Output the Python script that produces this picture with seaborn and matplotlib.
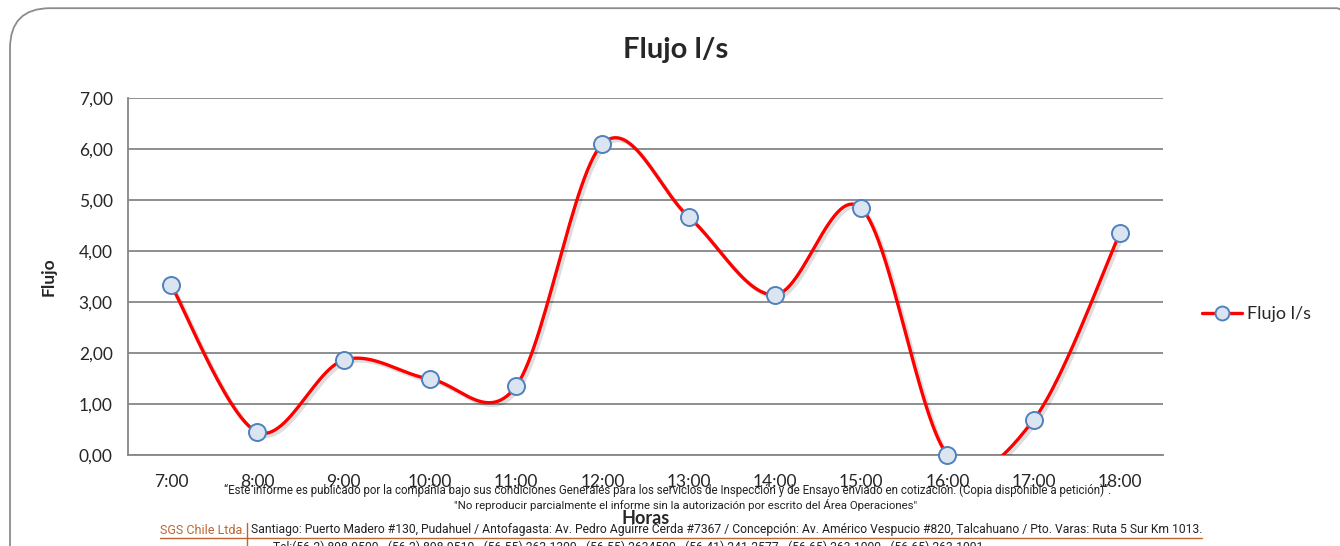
import numpy as np
import pandas as pd
import matplotlib
matplotlib.use("Agg")
import matplotlib.pyplot as plt
import matplotlib.patheffects as pe
from matplotlib.lines import Line2D
from matplotlib.patches import FancyBboxPatch
import seaborn as sns

# data
horas = ["7:00", "8:00", "9:00", "10:00", "11:00", "12:00",
         "13:00", "14:00", "15:00", "16:00", "17:00", "18:00"]
flujo = [3.33, 0.45, 1.86, 1.49, 1.35, 6.10, 4.67, 3.14, 4.84, 0.00, 0.69, 4.35]
y_ticks = [0, 1, 2, 3, 4, 5, 6, 7]

df = pd.DataFrame({"hora": horas, "flujo": flujo, "pos": np.arange(len(horas))})


def smooth_curve(x, y, steps=30):
    """Excel-like smoothed line (Catmull-Rom bezier through the points)."""
    x = np.asarray(x, float)
    y = np.asarray(y, float)
    px = np.concatenate([[x[0]], x, [x[-1]]])
    py = np.concatenate([[y[0]], y, [y[-1]]])
    xs, ys = [], []
    t = np.linspace(0, 1, steps)
    for i in range(1, len(px) - 2):
        p0 = np.array([px[i], py[i]])
        p3 = np.array([px[i + 1], py[i + 1]])
        p1 = p0 + (np.array([px[i + 1], py[i + 1]]) - np.array([px[i - 1], py[i - 1]])) / 6
        p2 = p3 - (np.array([px[i + 2], py[i + 2]]) - np.array([px[i], py[i]])) / 6
        b = ((1 - t) ** 3)[:, None] * p0 + (3 * (1 - t) ** 2 * t)[:, None] * p1 \
            + (3 * (1 - t) * t ** 2)[:, None] * p2 + (t ** 3)[:, None] * p3
        xs.extend(b[:, 0])
        ys.extend(b[:, 1])
    return pd.DataFrame({"x": xs, "y": ys})


curve = smooth_curve(df["pos"], df["flujo"])

sns.set_style("white")
plt.rcParams["font.family"] = ["Lato", "DejaVu Sans"]

fig = plt.figure(figsize=(13.4, 5.46), dpi=100)
ax = fig.add_axes([0.0955, 0.1667, 0.7725, 0.6538])

# rounded frame of the chart object (runs past the bottom edge)
frame = FancyBboxPatch((10 / 1340, -0.1), 1.02, 1.085, transform=fig.transFigure,
                       boxstyle="round,pad=0,rounding_size=0.03", mutation_aspect=2.45,
                       fc="none", ec="#8c8c8c", lw=1.3, zorder=0)
fig.patches.append(frame)

red = "#ff0000"
shadow = [pe.SimpleLineShadow(offset=(2, -2), shadow_color="#000000", alpha=0.13), pe.Normal()]
sns.lineplot(data=curve, x="x", y="y", ax=ax, color=red, lw=2.4, sort=False,
             estimator=None, zorder=3, path_effects=shadow)
sns.scatterplot(data=df, x="pos", y="flujo", ax=ax, s=150, color="#dbe5f1",
                edgecolor="#4f81bd", linewidth=1.4, zorder=4, clip_on=False)

ax.set_xlim(-0.5, len(horas) - 0.5)
ax.set_ylim(0, 7)
ax.set_yticks(y_ticks)
ax.set_yticklabels([f"{v:.2f}".replace(".", ",") for v in y_ticks], fontsize=12.5)
ax.set_xticks(df["pos"])
ax.set_xticklabels(horas, fontsize=12.5)
ax.tick_params(axis="y", length=5, width=1, color="#868686", pad=6)
ax.tick_params(axis="x", length=0, pad=14)
ax.yaxis.grid(True, color="#868686", lw=1.3)
ax.set_axisbelow(True)
for s in ["top", "right"]:
    ax.spines[s].set_visible(False)
ax.spines["left"].set_color("#868686")
ax.spines["bottom"].set_color("#868686")
ax.spines["left"].set_linewidth(1.3)
ax.spines["bottom"].set_linewidth(1.3)

ax.set_xlabel("")
ax.set_ylabel("Flujo", fontsize=12.5, fontweight="bold", labelpad=16)
fig.text(676 / 1340, 1 - 50 / 546, "Flujo l/s", ha="center", va="center",
         fontsize=21, fontweight="bold")

handle = Line2D([], [], color=red, lw=2.4, marker="o", markersize=10,
                markerfacecolor="#dbe5f1", markeredgecolor="#4f81bd", markeredgewidth=1.4)
fig.legend([handle], ["Flujo l/s"], loc="center left", bbox_to_anchor=(1186 / 1340, 1 - 314 / 546),
           frameon=False, fontsize=13, handlelength=2.2, handletextpad=0.3)

# footer texts from the underlying report page
narrow = ["Roboto", "DejaVu Sans"]
dark = "#222222"
brown = "#c0642f"
fig.text(646 / 1340, 1 - 519 / 546, "Horas", ha="center", va="center",
         fontsize=13, fontweight="bold")
fig.text(668 / 1340, 1 - 490 / 546,
         "\u201cEste informe es publicado por la compañía bajo sus condiciones Generales para los "
         "servicios de Inspección y de Ensayo enviado en cotización. (Copia disponible a petición)\u201d.",
         ha="center", va="center", fontsize=8.3, family=narrow, color=dark)
fig.text(686 / 1340, 1 - 505 / 546,
         "\"No reproducir parcialmente el informe sin la autorización por escrito del Área Operaciones\"",
         ha="center", va="center", fontsize=8.2, family=narrow, color=dark)
fig.text(160 / 1340, 1 - 530 / 546, "SGS Chile Ltda.", ha="left", va="center",
         fontsize=9, family=narrow, color=brown)
fig.text(251 / 1340, 1 - 530 / 546,
         "Santiago: Puerto Madero #130, Pudahuel / Antofagasta: Av. Pedro Aguirre Cerda #7367 / "
         "Concepción: Av. Américo Vespucio #820, Talcahuano / Pto. Varas: Ruta 5 Sur Km 1013.",
         ha="left", va="center", fontsize=8.7, family=narrow, color=dark)
fig.text(273 / 1340, 1 - 541 / 546,
         "Tel:(56-2) 898-9500 - (56-2) 898-9510 - (56-55) 263-1300 - (56-55) 2634500 - "
         "(56-41) 241-2577 - (56-65) 263-1000 - (56-65) 263-1001",
         ha="left", va="top", fontsize=8.7, family=narrow, color=dark)
fig.add_artist(Line2D([160 / 1340, 1202 / 1340], [1 - 538 / 546] * 2, color=brown, lw=1))
fig.add_artist(Line2D([247 / 1340] * 2, [1 - 523 / 546, 0.0], color=brown, lw=1))

fig.savefig("out.png", dpi=100)
